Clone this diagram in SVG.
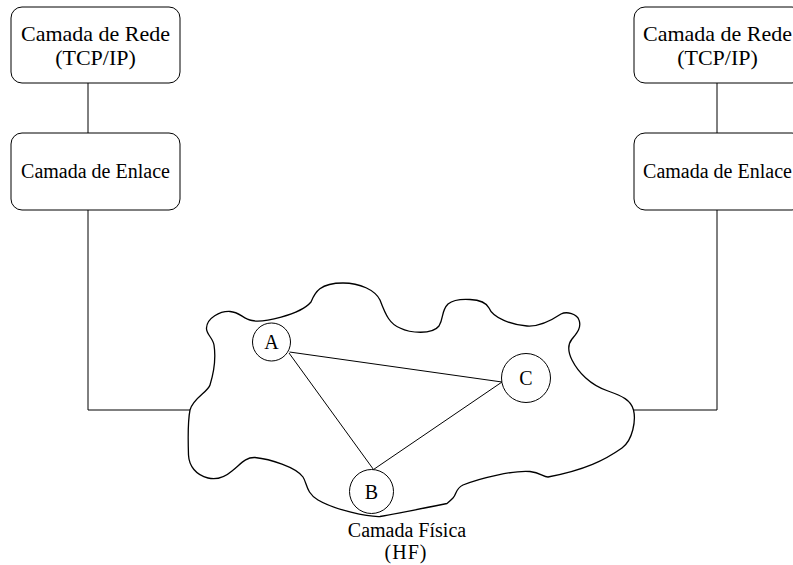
<svg xmlns="http://www.w3.org/2000/svg" width="793" height="565" viewBox="0 0 793 565">
<style>
.box{fill:#fff;stroke:#000;stroke-width:1}
.ln{fill:none;stroke:#000;stroke-width:1}
.cloud{fill:none;stroke:#000;stroke-width:1.3}
.t{font-family:"Liberation Serif","Times New Roman",serif;font-size:20px;fill:#000;text-anchor:middle}
.big{font-size:22px}
.nd{fill:#fff;stroke:#000;stroke-width:1}
</style>
<rect width="793" height="565" fill="#fff"/>
<g id="connectors">
<path class="ln" d="M88,83 V133 M88,210 V410 H190"/>
<path class="ln" d="M717,83 V133 M717,210 V410 H633"/>
<path class="ln" d="M289.5,352 L502,382 M289,353 L373.5,469.5 L502,382"/>
</g>
<g id="cloud">
<path class="cloud" d="M190,410 C193,398 208,392 210,385 C214,372 216,358 214,345 C213,338 206,334 206.5,328 C207,318 220,311 230,311.5 C240,312 243,319 252,320.5 C262,323 300,315 311,302 C315,292 320,283 343,283 C360,283 375,290 380,300 C386,316 390,324 400,328 C410,333 432,335 439,326 C444,318 441,311 448,304 C453,300 462,299 470,299.5 C480,300 486,302 489,308 C493,318 512,325 527,326 C540,327 552,320 561,314 C567,311 577,314 579,320 C582,328 576,334 572,339 C568,344 568,352 572,360 C578,372 590,385 608,391 C622,396 631,400 633.5,410 C636,420 633,440 622,448 C605,460 585,470 548,477 C543,477 541,473 530,471.5 C515,470 480,478 463,485 C455,489 457,494 453,498 C451,500 450,501 447,503.5 C430,507 395,514 380,516.5 C368,517 335,510 318,500 C306,493 307,483 303,477 C296,467 270,459 255,457.5 C245,457 240,465 232,471 C225,477 216,480 208,478 C196,475 189,466 188.5,455 C188,440 188,420 190,410 Z"/>
</g>
<g id="net-left">
<rect class="box" x="11" y="7" width="169" height="76" rx="11"/>
<text class="t big" x="95.5" y="41">Camada de Rede</text>
<text class="t big" x="95.5" y="65">(TCP/IP)</text>
</g>
<g id="link-left">
<rect class="box" x="11" y="133" width="169" height="77" rx="11"/>
<text class="t" x="95.5" y="178">Camada de Enlace</text>
</g>
<g id="net-right">
<rect class="box" x="634" y="7" width="169" height="76" rx="11"/>
<text class="t big" x="717.5" y="41">Camada de Rede</text>
<text class="t big" x="717.5" y="65">(TCP/IP)</text>
</g>
<g id="link-right">
<rect class="box" x="634" y="133" width="169" height="77" rx="11"/>
<text class="t" x="717.5" y="178">Camada de Enlace</text>
</g>
<g id="node-A">
<circle class="nd" cx="271.5" cy="342" r="19"/>
<text class="t" x="271.5" y="349">A</text>
</g>
<g id="node-B">
<circle class="nd" cx="371.5" cy="491.5" r="22"/>
<text class="t" x="371.5" y="498.5">B</text>
</g>
<g id="node-C">
<circle class="nd" cx="526" cy="378" r="24.5"/>
<text class="t" x="526" y="385">C</text>
</g>
<g id="label-phys">
<text class="t" x="407" y="536.5">Camada Física</text>
<text class="t" x="406" y="558.5" letter-spacing="1">(HF)</text>
</g>
</svg>
